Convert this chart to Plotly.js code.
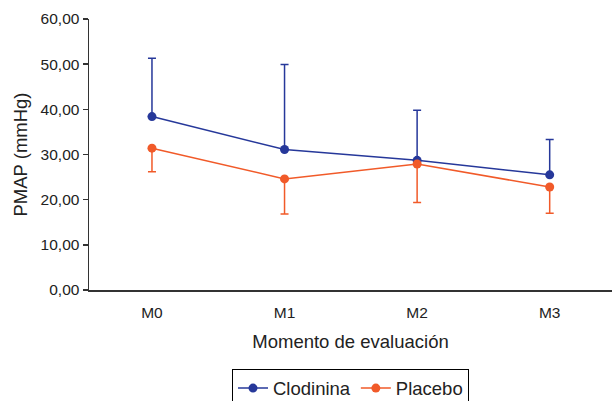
<!DOCTYPE html>
<html>
<head>
<meta charset="utf-8">
<script src="https://cdn.plot.ly/plotly-3.0.1.min.js"></script>
<style>html,body{margin:0;padding:0;background:#fff;}#chart{width:612px;height:401px;}</style>
</head>
<body>
<div id="chart"></div>
<script>
var categories = ["M0", "M1", "M2", "M3"];
var clodininaMean = [38.4, 31.1, 28.7, 25.5];
var clodininaUpper = [12.9, 18.8, 11.1, 7.8];
var placeboMean = [31.4, 24.6, 27.9, 22.8];
var placeboLower = [5.2, 7.8, 8.5, 5.8];
var yTicks = [0, 10, 20, 30, 40, 50, 60];

var blue = "#26389a";
var orange = "#f15a29";
var zeros = categories.map(function(){return 0;});

var traces = [
  {
    x: categories, y: clodininaMean, name: "Clodinina", type: "scatter", mode: "lines+markers",
    line: {color: blue, width: 1.5}, marker: {color: blue, size: 9},
    error_y: {type: "data", symmetric: false, array: clodininaUpper, arrayminus: zeros,
              color: blue, thickness: 1.5, width: 4}
  },
  {
    x: categories, y: placeboMean, name: "Placebo", type: "scatter", mode: "lines+markers",
    line: {color: orange, width: 1.5}, marker: {color: orange, size: 9},
    error_y: {type: "data", symmetric: false, array: zeros, arrayminus: placeboLower,
              color: orange, thickness: 1.5, width: 4}
  }
];

var layout = {
  width: 612, height: 401,
  margin: {l: 89, r: 0, t: 19, b: 111, autoexpand: false},
  paper_bgcolor: "#fff", plot_bgcolor: "#fff",
  separators: ",.",
  font: {family: "Liberation Sans, Arial, sans-serif", size: 15, color: "#222"},
  showlegend: true,
  legend: {
    orientation: "h", x: 0.5, xanchor: "center", y: -0.29, yanchor: "top",
    bordercolor: "#000", borderwidth: 1, font: {size: 18.5, color: "#222"},
    itemwidth: 30, tracegroupgap: 0
  },
  xaxis: {
    type: "category", range: [-0.475, 3.47],
    showline: true, linecolor: "#333", linewidth: 1.5,
    ticks: "", showgrid: false, zeroline: false, ticklabelstandoff: 8,
    tickfont: {size: 15.5, color: "#222"},
    title: {text: "Momento de evaluación", font: {size: 18.5, color: "#222"}, standoff: 15}
  },
  yaxis: {
    range: [0, 60], tickvals: yTicks, tickformat: ".2f",
    showline: true, linecolor: "#333", linewidth: 1.5,
    ticks: "outside", ticklen: 5, tickcolor: "#333", tickwidth: 1.5,
    showgrid: false, zeroline: false,
    tickfont: {size: 15.5, color: "#222"},
    title: {text: "PMAP (mmHg)", font: {size: 18.5, color: "#222"}, standoff: 8}
  }
};

Plotly.newPlot("chart", traces, layout, {displayModeBar: false, staticPlot: true});
</script>
</body>
</html>
